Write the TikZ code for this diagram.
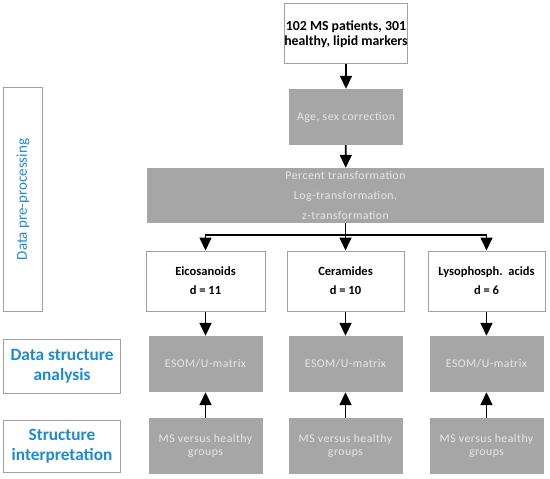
\documentclass[tikz,border=0pt]{standalone}
\usepackage{fontspec}
\setmainfont{Carlito}
\usetikzlibrary{arrows.meta}
\definecolor{boxgray}{HTML}{A6A6A6}
\definecolor{edgegray}{HTML}{A0A0A0}
\definecolor{graytext}{HTML}{E6E6E6}
\definecolor{labelblue}{HTML}{1E8AD0}
\tikzset{
  whitebox/.style={draw=edgegray, line width=1bp, fill=white, align=center, inner sep=0pt,
    font=\fontsize{12.5bp}{19bp}\selectfont\bfseries},
  graybox/.style={fill=boxgray, draw=none, align=center, inner sep=0pt, text=graytext,
    font=\fontsize{11.8bp}{20bp}\selectfont\addfontfeature{LetterSpace=4}},
  grouptext/.style={font=\fontsize{11.8bp}{13bp}\selectfont\addfontfeature{LetterSpace=4}},
  sidebox/.style={draw=edgegray, line width=1bp, fill=white, align=center, inner sep=0pt,
    text=labelblue, font=\fontsize{17.3bp}{20bp}\selectfont\bfseries},
  flow/.style={line width=1.7bp, -{Triangle[width=12bp,length=13bp]}},
  plain/.style={line width=1.7bp}
}
\begin{document}
\begin{tikzpicture}[x=1bp,y=-1bp]
\useasboundingbox (0,0) rectangle (550,479);
% main column
\node[whitebox, minimum width=120bp, minimum height=60bp, font=\fontsize{13.8bp}{14.5bp}\selectfont\bfseries] (top) at (346,34) {102 MS patients, 301\\healthy, lipid markers};
\node[graybox, minimum width=114bp, minimum height=56bp] (age) at (346,117) {Age, sex correction};
\node[graybox, minimum width=397bp, minimum height=55bp] (pct) at (345.5,195.5) {Percent transformation\\Log-transformation,\\z-transformation};
% three branches
\node[whitebox, minimum width=119bp, minimum height=60bp] (eico) at (205.5,281) {Eicosanoids\\d = 11};
\node[whitebox, minimum width=117bp, minimum height=60bp] (cer) at (345.5,281) {Ceramides\\d = 10};
\node[whitebox, minimum width=117bp, minimum height=60bp] (lyso) at (486.5,281) {Lysophosph.~~acids\\d = 6};
\node[graybox, minimum width=114bp, minimum height=56bp] (esom1) at (205.5,364) {ESOM/U-matrix};
\node[graybox, minimum width=114bp, minimum height=56bp] (esom2) at (345.5,364) {ESOM/U-matrix};
\node[graybox, minimum width=114bp, minimum height=56bp] (esom3) at (486.5,364) {ESOM/U-matrix};
\node[graybox, grouptext, minimum width=114bp, minimum height=56bp] (grp1) at (205.5,446) {MS versus healthy\\groups};
\node[graybox, grouptext, minimum width=114bp, minimum height=56bp] (grp2) at (345.5,446) {MS versus healthy\\groups};
\node[graybox, grouptext, minimum width=114bp, minimum height=56bp] (grp3) at (486.5,446) {MS versus healthy\\groups};
% side labels
\node[sidebox, minimum width=38bp, minimum height=223bp] (pre) at (23,199.5) {};
\node[text=labelblue, rotate=90, font=\fontsize{15bp}{18bp}\selectfont] (prelabel) at (pre.center) {Data pre-processing};
\node[sidebox, minimum width=116bp, minimum height=54bp] (dsa) at (62,366) {Data structure\\analysis};
\node[sidebox, minimum width=116bp, minimum height=52bp] (sint) at (62,446) {Structure\\interpretation};
% connectors
\draw[flow] (top) -- (age);
\draw[flow] (age) -- (pct);
\coordinate (br) at (345.5,235);
\draw[plain] (pct.south) -- (br);
\draw[plain, line cap=rect] (eico.north |- br) -- (lyso.north |- br);
\draw[flow] (eico.north |- br) -- (eico.north);
\draw[flow] (br) -- (cer.north);
\draw[flow] (lyso.north |- br) -- (lyso.north);
\draw[flow] (eico) -- (esom1);
\draw[flow] (cer) -- (esom2);
\draw[flow] (lyso) -- (esom3);
\draw[flow] (grp1) -- (esom1);
\draw[flow] (grp2) -- (esom2);
\draw[flow] (grp3) -- (esom3);
\end{tikzpicture}
\end{document}
